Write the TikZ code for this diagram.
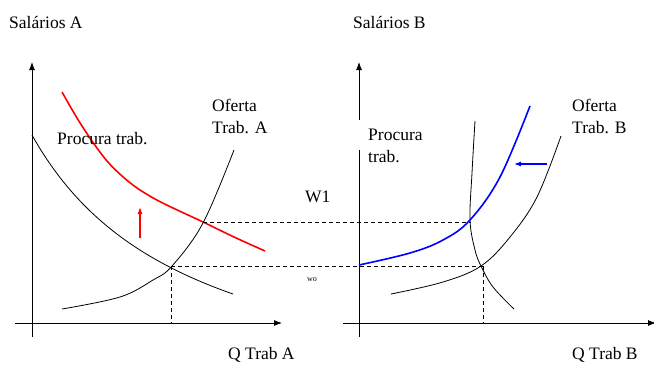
\documentclass[tikz,border=0pt]{standalone}
\usepackage{fontspec}
\setmainfont{Liberation Serif}
\usetikzlibrary{arrows.meta}
\begin{document}
\begin{tikzpicture}[x=1pt,y=-1pt,
  axis/.style={line width=0.9pt,-{Latex[length=8pt,width=6pt]}},
  axisplain/.style={line width=0.9pt},
  curve/.style={line width=0.8pt},
  redcurve/.style={line width=1.6pt,red},
  bluecurve/.style={line width=1.6pt,blue},
  guide/.style={line width=0.7pt,dash pattern=on 4pt off 3pt},
  lbl/.style={font=\fontsize{17.5}{22}\selectfont,inner sep=0pt,align=left},
  tiny/.style={font=\fontsize{8}{9}\selectfont,inner sep=0pt}]
\useasboundingbox (0,0) rectangle (654,365);
% ---------- Panel A ----------
\coordinate (ayb) at (32,337);
\coordinate (ayt) at (32,62);
\coordinate (axl) at (15,323);
\coordinate (axr) at (282,323);
\draw[axis] (ayb) -- (ayt);
\draw[axis] (axl) -- (axr);
\node[lbl,anchor=west] (salA) at (9,22) {Salários A};
\node[lbl,anchor=west] (qA) at (228,355) {Q Trab A};
% demand A
\draw[curve] plot[domain=32:233,samples=60,smooth] (\x,{420.9-458.54/((\x+128.4)/100)});
% red demand
\draw[redcurve] plot[smooth,tension=0.55] coordinates {(62,92) (77,118) (92,141) (107,161) (122,176) (137,188) (155,199) (173,208) (203,222) (234,237) (265,251)};
% supply A
\draw[curve] plot[smooth,tension=0.6] coordinates {(62,309) (120,297) (153,280) (172,266) (203,223) (234,150)};
% red arrow
\coordinate (raB) at (140,238);
\coordinate (raT) at (140,207);
\draw[red,line width=1.1pt,-{Latex[length=7pt,width=5pt]}] (raB) -- (raT);
\node[lbl,anchor=west] (procA) at (57,139) {Procura trab.};
\node[lbl,anchor=north west] (ofA) at (212,99) {Oferta\\Trab. A};
% ---------- Panel B ----------
\coordinate (byb) at (359,337);
\coordinate (bygap1) at (359,150);
\coordinate (bygap2) at (359,120);
\coordinate (byt) at (359,62);
\coordinate (bxl) at (343,323);
\coordinate (bxr) at (656,323);
\draw[axisplain] (byb) -- (bygap1);
\draw[axis] (bygap2) -- (byt);
\draw[axis] (bxl) -- (bxr);
\node[lbl,anchor=west] (salB) at (353,22) {Salários B};
\node[lbl,anchor=west] (qB) at (572,355) {Q Trab B};
% blue supply
\draw[bluecurve] plot[smooth,tension=0.6] coordinates {(359,265) (410,253) (443,240) (470,220) (500,177) (530,106)};
% demand B (steep)
\draw[curve] plot[smooth,tension=0.6] coordinates {(475,121) (472,173) (470,220) (475,250) (481,266) (493,287) (514,309)};
% supply B
\draw[curve] plot[smooth,tension=0.6] coordinates {(391,294) (443,282) (481,266) (510,237) (537,197) (561,136)};
% blue arrow
\coordinate (baR) at (547,164);
\coordinate (baL) at (514,164);
\draw[blue,line width=1.1pt,-{Latex[length=7pt,width=5pt]}] (baR) -- (baL);
\node[lbl,anchor=north west] (procB) at (368,129) {Procura\\trab.};
\node[lbl,anchor=north west] (ofB) at (572,99) {Oferta\\Trab. B};
% ---------- guides ----------
\coordinate (eA0) at (171,266);
\coordinate (eA0b) at (171,323);
\coordinate (eA1) at (203,222);
\coordinate (eB1) at (471,222);
\coordinate (eB0) at (483,266);
\coordinate (eB0b) at (483,323);
\draw[guide] (eA1) -- (eB1);
\draw[guide] (eA0) -- (eB0);
\draw[guide] (eA0) -- (eA0b);
\draw[guide] (eB0) -- (eB0b);
\node[lbl,anchor=west] (w1) at (305,197) {W1};
\node[tiny,anchor=west] (wo) at (307,280) {wo};
\end{tikzpicture}
\end{document}
